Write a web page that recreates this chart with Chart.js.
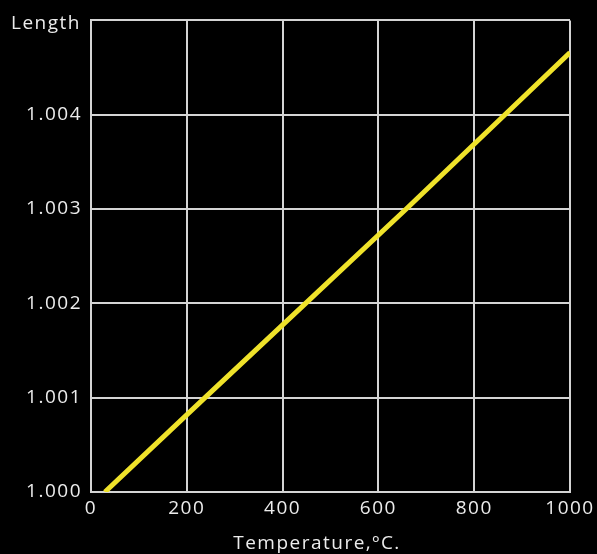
<!DOCTYPE html>
<html>
<head>
<meta charset="utf-8">
<script src="https://cdn.jsdelivr.net/npm/chart.js@4"></script>
<style>
  html, body { margin: 0; padding: 0; background: #000; }
  #wrap { width: 597px; height: 554px; }
</style>
</head>
<body>
<div id="wrap"><canvas id="chart"></canvas></div>
<script>
const temperatures = [29, 238, 448, 658, 864, 1000];
const lengths = [1.0000, 1.0010, 1.0020, 1.0030, 1.0040, 1.00466];
const xTicks = [0, 200, 400, 600, 800, 1000];
const yTicks = [1.000, 1.001, 1.002, 1.003, 1.004, 1.005];

const textColor = '#ececec';
const gridColor = '#d4d4d4';
const font = { family: 'Open Sans, sans-serif', size: 19 };

// the scanned labels are a bit letter-spaced; axis titles are placed by hand like in the scan
const axisTitles = {
    id: 'axisTitles',
    beforeDraw(chart) {
        chart.ctx.letterSpacing = '1.5px';
    },
    afterDraw(chart) {
        const ctx = chart.ctx;
        ctx.save();
        ctx.fillStyle = textColor;
        ctx.font = '19px "Open Sans", sans-serif';
        ctx.textBaseline = 'middle';
        ctx.textAlign = 'right';
        ctx.fillText('Length', 81, 24);
        ctx.textAlign = 'center';
        ctx.fillText('Temperature,ºC.', 317, 544);
        ctx.restore();
    }
};

const ctx = document.getElementById('chart').getContext('2d');
new Chart(ctx, {
    type: 'line',
    data: {
        datasets: [{
            data: temperatures.map((t, i) => ({ x: t, y: lengths[i] })),
            borderColor: '#efe22a',
            borderWidth: 5,
            pointRadius: 0,
            tension: 0,
            fill: false
        }]
    },
    options: {
        responsive: true,
        maintainAspectRatio: false,
        animation: false,
        layout: { padding: { top: 12, right: 27, left: 0, bottom: 0 } },
        plugins: { legend: { display: false }, tooltip: { enabled: false } },
        scales: {
            x: {
                type: 'linear',
                min: 0,
                max: 1000,
                afterBuildTicks: (scale) => { scale.ticks = xTicks.map(v => ({ value: v })); },
                grid: { color: gridColor, lineWidth: 2, tickLength: 0 },
                border: { color: gridColor, width: 2 },
                ticks: { color: textColor, font: font, padding: 5, maxRotation: 0, callback: (v) => String(v) },
                afterFit: (scale) => { scale.height = 62; }
            },
            y: {
                type: 'linear',
                min: 1.000,
                max: 1.005,
                afterBuildTicks: (scale) => { scale.ticks = yTicks.map(v => ({ value: v })); },
                grid: { color: gridColor, lineWidth: 2, tickLength: 0 },
                border: { color: gridColor, width: 2 },
                ticks: {
                    color: textColor,
                    font: font,
                    padding: 9,
                    callback: (v) => (Math.abs(v - 1.005) < 1e-9 ? '' : v.toFixed(3))
                },
                afterFit: (scale) => { scale.width = 91; }
            }
        }
    },
    plugins: [axisTitles]
});
</script>
</body>
</html>
